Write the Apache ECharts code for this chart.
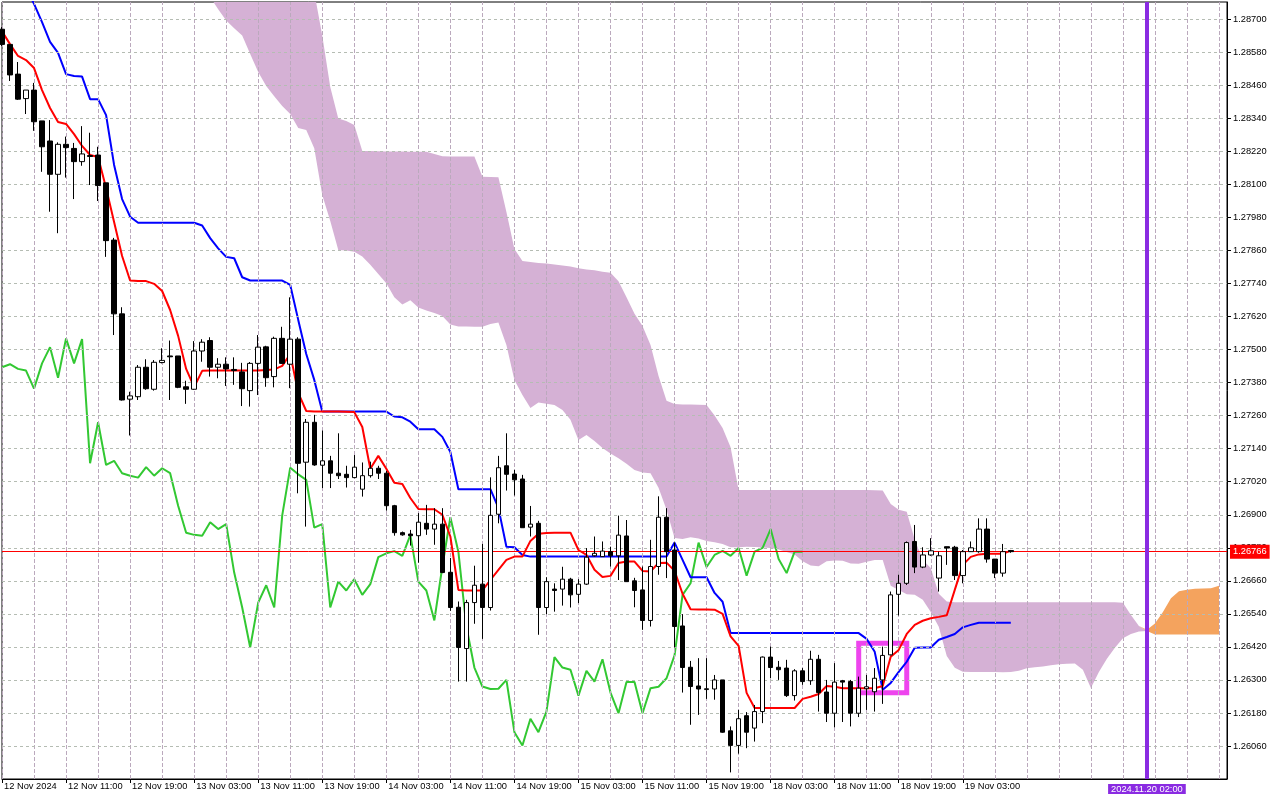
<!DOCTYPE html>
<html>
<head>
<meta charset="utf-8">
<script src="https://cdn.jsdelivr.net/npm/echarts@6/dist/echarts.min.js"></script>
<style>
html,body{margin:0;padding:0;background:#fff;}
#chart{width:1280px;height:800px;}
</style>
</head>
<body>
<div id="chart"></div>
<script>
// ---------- categories (hourly bars) ----------
const dayBlocks = [['12 Nov',3,23],['13 Nov',0,23],['14 Nov',0,23],['15 Nov',0,23],['18 Nov',0,23],['19 Nov',0,23],['20 Nov',0,12]];
const categories = [];
dayBlocks.forEach(([d,h0,h1]) => { for (let h = h0; h <= h1; h++) categories.push(d + ' ' + String(h).padStart(2,'0') + ':00'); });

const xTickLabels = ['12 Nov 2024','12 Nov 11:00','12 Nov 19:00','13 Nov 03:00','13 Nov 11:00','13 Nov 19:00','14 Nov 03:00','14 Nov 11:00','14 Nov 19:00','15 Nov 03:00','15 Nov 11:00','15 Nov 19:00','18 Nov 03:00','18 Nov 11:00','18 Nov 19:00','19 Nov 03:00'];
const yTicks = [1.26060,1.26180,1.26300,1.26420,1.26540,1.26660,1.26780,1.26900,1.27020,1.27140,1.27260,1.27380,1.27500,1.27620,1.27740,1.27860,1.27980,1.28100,1.28220,1.28340,1.28460,1.28580,1.28700];

// ---------- candles ----------
const opens = [1.28664,1.28609,1.28501,1.28412,1.28443,1.28331,1.28258,1.28137,1.28246,1.28231,1.28183,1.28205,1.28207,1.28106,1.27898,1.27630,1.27320,1.27329,1.27436,1.27356,1.27453,1.27477,1.27477,1.27365,1.27356,1.27495,1.27533,1.27436,1.27447,1.27428,1.27419,1.27351,1.27450,1.27510,1.27402,1.27541,1.27447,1.27538,1.27091,1.27236,1.27080,1.27096,1.27051,1.27047,1.27035,1.26993,1.27042,1.27069,1.27051,1.26933,1.26835,1.26830,1.26824,1.26869,1.26848,1.26866,1.26691,1.26564,1.26414,1.26581,1.26648,1.26563,1.26902,1.27078,1.27048,1.27030,1.26855,1.26869,1.26563,1.26630,1.26630,1.26666,1.26611,1.26648,1.26751,1.26748,1.26766,1.26751,1.26823,1.26660,1.26627,1.26516,1.26712,1.26891,1.26772,1.26496,1.26346,1.26278,1.26265,1.26267,1.26300,1.26115,1.26062,1.26170,1.26125,1.26185,1.26383,1.26346,1.26343,1.26243,1.26333,1.26297,1.26375,1.26256,1.26179,1.26297,1.26294,1.26179,1.26268,1.26257,1.26300,1.26391,1.26611,1.26651,1.26803,1.26710,1.26754,1.26670,1.26784,1.26782,1.26679,1.26766,1.26766,1.26848,1.26739,1.26688,1.26770];
const highs = [1.28672,1.28609,1.28545,1.28443,1.28469,1.28331,1.28334,1.28253,1.28274,1.28251,1.28312,1.28288,1.28237,1.28106,1.27906,1.27654,1.27347,1.27444,1.27465,1.27462,1.27505,1.27533,1.27477,1.27387,1.27531,1.27538,1.27545,1.27469,1.27472,1.27472,1.27452,1.27455,1.27553,1.27514,1.27547,1.27583,1.27690,1.27545,1.27248,1.27263,1.27206,1.27114,1.27196,1.27078,1.27117,1.27090,1.27093,1.27078,1.27059,1.26936,1.26839,1.26845,1.26906,1.26936,1.26924,1.26924,1.26743,1.26585,1.26591,1.26715,1.26794,1.27036,1.27114,1.27196,1.27063,1.27045,1.26932,1.26878,1.26673,1.26651,1.26711,1.26671,1.26666,1.26779,1.26821,1.26803,1.26784,1.26897,1.26881,1.26671,1.26712,1.26809,1.26967,1.26924,1.26800,1.26539,1.26369,1.26379,1.26379,1.26318,1.26300,1.26131,1.26191,1.26183,1.26209,1.26385,1.26421,1.26369,1.26373,1.26339,1.26343,1.26406,1.26391,1.26300,1.26361,1.26300,1.26300,1.26312,1.26318,1.26343,1.26421,1.26621,1.26682,1.26803,1.26863,1.26782,1.26815,1.26766,1.26784,1.26787,1.26772,1.26803,1.26887,1.26887,1.26739,1.26794,1.26772];
const lows = [1.28603,1.28476,1.28407,1.28356,1.28295,1.28146,1.28001,1.27923,1.28125,1.28047,1.28168,1.28098,1.28040,1.27837,1.27553,1.27315,1.27188,1.27317,1.27354,1.27351,1.27450,1.27317,1.27360,1.27303,1.27354,1.27456,1.27402,1.27396,1.27368,1.27372,1.27295,1.27293,1.27335,1.27365,1.27363,1.27448,1.27360,1.26978,1.26857,1.27078,1.26997,1.26997,1.27030,1.26999,1.27033,1.26966,1.27035,1.27030,1.26915,1.26824,1.26824,1.26788,1.26726,1.26827,1.26791,1.26688,1.26551,1.26294,1.26294,1.26504,1.26449,1.26552,1.26869,1.26988,1.26970,1.26853,1.26821,1.26464,1.26539,1.26548,1.26570,1.26563,1.26579,1.26645,1.26748,1.26747,1.26712,1.26663,1.26656,1.26564,1.26482,1.26494,1.26682,1.26670,1.26418,1.26254,1.26137,1.26173,1.26231,1.26228,1.26108,1.25964,1.26032,1.26052,1.26076,1.26143,1.26306,1.26300,1.26238,1.26225,1.26282,1.26282,1.26185,1.26147,1.26128,1.26147,1.26131,1.26165,1.26191,1.26185,1.26213,1.26389,1.26534,1.26645,1.26688,1.26706,1.26751,1.26621,1.26718,1.26663,1.26651,1.26765,1.26762,1.26726,1.26670,1.26675,1.26762];
const closes = [1.28609,1.28498,1.28410,1.28443,1.28328,1.28237,1.28137,1.28246,1.28234,1.28183,1.28211,1.28202,1.28096,1.27896,1.27630,1.27317,1.27332,1.27436,1.27358,1.27454,1.27461,1.27474,1.27363,1.27356,1.27495,1.27527,1.27436,1.27447,1.27430,1.27424,1.27358,1.27450,1.27509,1.27398,1.27541,1.27450,1.27538,1.27087,1.27236,1.27081,1.27096,1.27051,1.27042,1.27035,1.27073,1.27042,1.27069,1.27051,1.26933,1.26835,1.26827,1.26824,1.26873,1.26848,1.26866,1.26690,1.26563,1.26418,1.26581,1.26644,1.26563,1.26898,1.27071,1.27047,1.27027,1.26853,1.26866,1.26563,1.26657,1.26625,1.26666,1.26609,1.26648,1.26746,1.26760,1.26768,1.26751,1.26826,1.26657,1.26625,1.26516,1.26712,1.26891,1.26766,1.26494,1.26345,1.26276,1.26267,1.26268,1.26300,1.26110,1.26062,1.26159,1.26110,1.26185,1.26383,1.26345,1.26337,1.26243,1.26333,1.26294,1.26375,1.26254,1.26179,1.26292,1.26292,1.26179,1.26270,1.26275,1.26306,1.26389,1.26609,1.26651,1.26799,1.26710,1.26754,1.26769,1.26751,1.26779,1.26679,1.26766,1.26780,1.26848,1.26739,1.26688,1.26766,1.26766];

// ---------- Ichimoku lines ----------
const tenkan = [1.28657,1.28610,1.28567,1.28552,1.28523,1.28443,1.28378,1.28327,1.28320,1.28283,1.28240,1.28207,1.28200,1.28087,1.27964,1.27840,1.27751,1.27749,1.27749,1.27739,1.27713,1.27644,1.27550,1.27430,1.27364,1.27423,1.27424,1.27424,1.27424,1.27424,1.27424,1.27424,1.27424,1.27426,1.27428,1.27441,1.27484,1.27343,1.27277,1.27275,1.27275,1.27275,1.27275,1.27274,1.27273,1.27219,1.27067,1.27114,1.27067,1.27016,1.27012,1.26961,1.26921,1.26920,1.26920,1.26900,1.26821,1.26627,1.26625,1.26625,1.26625,1.26663,1.26700,1.26736,1.26748,1.26748,1.26805,1.26831,1.26834,1.26835,1.26835,1.26835,1.26772,1.26754,1.26700,1.26674,1.26678,1.26725,1.26730,1.26730,1.26696,1.26694,1.26725,1.26726,1.26696,1.26613,1.26557,1.26556,1.26556,1.26555,1.26540,1.26458,1.26424,1.26253,1.26198,1.26198,1.26198,1.26198,1.26198,1.26198,1.26231,1.26239,1.26249,1.26278,1.26275,1.26270,1.26270,1.26270,1.26270,1.26270,1.26278,1.26384,1.26409,1.26467,1.26500,1.26515,1.26524,1.26529,1.26535,1.26627,1.26718,1.26747,1.26756,1.26758,1.26758,1.26758,1.26770];
const kijun = [null,null,null,1.28814,1.28756,1.28690,1.28618,1.28578,1.28501,1.28494,1.28492,1.28410,1.28410,1.28352,1.28171,1.28047,1.27983,1.27961,1.27961,1.27961,1.27961,1.27961,1.27961,1.27961,1.27961,1.27951,1.27905,1.27868,1.27837,1.27832,1.27763,1.27751,1.27751,1.27751,1.27751,1.27751,1.27735,1.27608,1.27484,1.27390,1.27275,1.27275,1.27275,1.27275,1.27275,1.27275,1.27275,1.27275,1.27275,1.27257,1.27254,1.27238,1.27211,1.27211,1.27211,1.27183,1.27128,1.26993,1.26993,1.26993,1.26993,1.26993,1.26925,1.26784,1.26782,1.26754,1.26748,1.26748,1.26748,1.26748,1.26748,1.26748,1.26748,1.26748,1.26748,1.26748,1.26748,1.26748,1.26748,1.26748,1.26748,1.26748,1.26748,1.26748,1.26799,1.26736,1.26673,1.26673,1.26673,1.26616,1.26584,1.26470,1.26470,1.26470,1.26470,1.26470,1.26470,1.26470,1.26470,1.26470,1.26470,1.26470,1.26470,1.26470,1.26470,1.26470,1.26470,1.26470,1.26449,1.26402,1.26264,1.26289,1.26329,1.26366,1.26417,1.26418,1.26418,1.26446,1.26456,1.26467,1.26491,1.26500,1.26508,1.26508,1.26508,1.26508,1.26508];
const chikou = [1.27436,1.27447,1.27430,1.27424,1.27358,1.27450,1.27509,1.27398,1.27541,1.27450,1.27538,1.27087,1.27236,1.27081,1.27096,1.27051,1.27042,1.27035,1.27073,1.27042,1.27069,1.27051,1.26933,1.26835,1.26827,1.26824,1.26873,1.26848,1.26866,1.26690,1.26563,1.26418,1.26581,1.26644,1.26563,1.26898,1.27071,1.27047,1.27027,1.26853,1.26866,1.26563,1.26657,1.26625,1.26666,1.26609,1.26648,1.26746,1.26760,1.26768,1.26751,1.26826,1.26657,1.26625,1.26516,1.26712,1.26891,1.26766,1.26494,1.26345,1.26276,1.26267,1.26268,1.26300,1.26110,1.26062,1.26159,1.26110,1.26185,1.26383,1.26345,1.26337,1.26243,1.26333,1.26294,1.26375,1.26254,1.26179,1.26292,1.26292,1.26179,1.26270,1.26275,1.26306,1.26389,1.26609,1.26651,1.26799,1.26710,1.26754,1.26769,1.26751,1.26779,1.26679,1.26766,1.26780,1.26848,1.26739,1.26688,1.26766,1.26766];
const lead = new Array(26).fill(null);
const spanA = lead.concat([1.28781,1.28737,1.28696,1.28668,1.28641,1.28574,1.28509,1.28458,1.28421,1.28385,1.28356,1.28305,1.28298,1.28232,1.28062,1.27967,1.27862,1.27860,1.27856,1.27838,1.27808,1.27775,1.27741,1.27690,1.27664,1.27679,1.27653,1.27642,1.27633,1.27622,1.27591,1.27584,1.27584,1.27583,1.27583,1.27593,1.27599,1.27517,1.27390,1.27335,1.27288,1.27308,1.27303,1.27299,1.27281,1.27245,1.27172,1.27190,1.27168,1.27143,1.27123,1.27105,1.27085,1.27063,1.27054,1.27051,1.26998,1.26918,1.26816,1.26812,1.26818,1.26814,1.26805,1.26800,1.26794,1.26782,1.26782,1.26784,1.26783,1.26781,1.26779,1.26774,1.26765,1.26756,1.26731,1.26716,1.26713,1.26731,1.26734,1.26733,1.26723,1.26722,1.26729,1.26736,1.26736,1.26642,1.26627,1.26611,1.26609,1.26591,1.26547,1.26493,1.26387,1.26344,1.26330,1.26329,1.26329,1.26329,1.26329,1.26328,1.26329,1.26333,1.26342,1.26346,1.26349,1.26353,1.26357,1.26359,1.26360,1.26337,1.26271,1.26329,1.26377,1.26417,1.26451,1.26467,1.26476,1.26482,1.26505,1.26547,1.26597,1.26622,1.26628,1.26631,1.26632,1.26633,1.26642,null]);
const spanB = lead.concat([1.28843,1.28843,1.28843,1.28843,1.28843,1.28843,1.28843,1.28843,1.28843,1.28843,1.28843,1.28843,1.28843,1.28799,1.28641,1.28454,1.28340,1.28331,1.28316,1.28222,1.28222,1.28221,1.28220,1.28220,1.28220,1.28219,1.28219,1.28219,1.28211,1.28203,1.28202,1.28202,1.28202,1.28202,1.28128,1.28127,1.28126,1.28000,1.27866,1.27822,1.27818,1.27815,1.27813,1.27809,1.27806,1.27802,1.27796,1.27791,1.27788,1.27783,1.27779,1.27748,1.27690,1.27630,1.27586,1.27517,1.27404,1.27314,1.27302,1.27301,1.27301,1.27300,1.27299,1.27261,1.27215,1.27145,1.26990,1.26990,1.26990,1.26990,1.26990,1.26990,1.26990,1.26990,1.26990,1.26990,1.26990,1.26990,1.26990,1.26990,1.26990,1.26990,1.26990,1.26989,1.26988,1.26939,1.26918,1.26911,1.26809,1.26736,1.26707,1.26613,1.26585,1.26582,1.26582,1.26582,1.26582,1.26582,1.26582,1.26582,1.26582,1.26582,1.26582,1.26582,1.26582,1.26582,1.26582,1.26582,1.26582,1.26582,1.26582,1.26582,1.26582,1.26582,1.26580,1.26536,1.26496,1.26478,1.26465,1.26465,1.26465,1.26465,1.26465,1.26465,1.26465,1.26465,1.26465,null]);

const bidPrice = 1.26766;
const markTime = '20 Nov 02:00';
const markTimeLabel = '2024.11.20 02:00';
const boxFrom = {time: '18 Nov 14:00', price: 1.26433};
const boxTo = {time: '18 Nov 20:00', price: 1.26253};

// ---------- derived tables ----------
const candleData = opens.map((o, i) => [o, closes[i], lows[i], highs[i]]);
const kumoLow = spanA.map((a, i) => a == null ? null : Math.min(a, spanB[i]));
const kumoBear = spanA.map((a, i) => a == null ? null : Math.max(spanB[i] - a, 0));
const kumoBull = spanA.map((a, i) => a == null ? null : Math.max(a - spanB[i], 0));
const vGrid = categories.filter((c, i) => i % 4 === 0).map(c => ({xAxis: c, lineStyle: {color: '#BBA9BD', width: 1, type: [4, 2]}}));
const hGrid = yTicks.map(v => ({yAxis: v, lineStyle: {color: '#B5BCB3', width: 1, type: [3, 3]}}));

const FONT = 'Liberation Sans';
const chart = echarts.init(document.getElementById('chart'), null, {renderer: 'canvas'});
chart.setOption({
  animation: false,
  backgroundColor: '#ffffff',
  grid: {left: 2, right: 53, top: 2, bottom: 21, show: true, borderColor: '#000', borderWidth: 1, backgroundColor: '#fff'},
  xAxis: {
    type: 'category', data: categories, boundaryGap: false,
    axisLine: {show: true, lineStyle: {color: '#000', width: 1}},
    axisTick: {show: true, length: 4, lineStyle: {color: '#000'}, interval: (idx) => idx % 8 === 0 && idx <= 120},
    axisLabel: {
      show: true, interval: (idx) => idx % 8 === 0 && idx <= 120, align: 'left', margin: 3,
      color: '#000', fontFamily: FONT, fontSize: 9.3, padding: [0, 0, 0, 2],
      formatter: (v, idx) => (idx % 8 === 0 && idx / 8 < xTickLabels.length) ? xTickLabels[idx / 8] : ''
    },
    splitLine: {show: false}
  },
  yAxis: {
    type: 'value', position: 'right', min: 1.2594, max: 1.28763, scale: true,
    axisLine: {show: true, lineStyle: {color: '#000', width: 1}},
    axisTick: {show: true, length: 4, customValues: yTicks, lineStyle: {color: '#000'}},
    axisLabel: {show: true, customValues: yTicks, margin: 6, color: '#000', fontFamily: FONT, fontSize: 9.3, formatter: v => v.toFixed(5)},
    splitLine: {show: false}
  },
  series: [
    {name: 'kumoBase', type: 'line', stack: 'kumo', data: kumoLow, symbol: 'none', showSymbol: false, lineStyle: {width: 0, opacity: 0}, silent: true, z: 1},
    {name: 'kumoBear', type: 'line', stack: 'kumo', data: kumoBear, symbol: 'none', showSymbol: false, lineStyle: {width: 0, opacity: 0}, areaStyle: {color: '#D5B1D5', opacity: 1}, silent: true, z: 1},
    {name: 'kumoBull', type: 'line', stack: 'kumo', data: kumoBull, symbol: 'none', showSymbol: false, lineStyle: {width: 0, opacity: 0}, areaStyle: {color: '#F4A35E', opacity: 1}, silent: true, z: 1},
    {name: 'grid', type: 'line', data: categories.map(() => null), silent: true, z: 2,
      markLine: {silent: true, symbol: 'none', precision: 5, animation: false, label: {show: false},
        emphasis: {disabled: true}, data: vGrid.concat(hGrid)}},
    {name: 'Chikou', type: 'line', data: chikou, symbol: 'none', showSymbol: false, lineStyle: {color: '#32C832', width: 2}, z: 3},
    {name: 'Kijun', type: 'line', data: kijun, symbol: 'none', showSymbol: false, lineStyle: {color: '#0000FF', width: 2}, z: 4},
    {name: 'Tenkan', type: 'line', data: tenkan, symbol: 'none', showSymbol: false, lineStyle: {color: '#FF0000', width: 2}, z: 5},
    {name: 'GBPUSD', type: 'candlestick', data: candleData, barWidth: 5, z: 6,
      itemStyle: {color: '#FFFFFF', color0: '#000000', borderColor: '#000000', borderColor0: '#000000', borderWidth: 1}},
    {name: 'marks', type: 'line', data: categories.map(() => null), silent: true, z: 10,
      markLine: {silent: true, symbol: 'none', precision: 5, animation: false, emphasis: {disabled: true},
        data: [
          {yAxis: bidPrice, lineStyle: {color: '#FF0000', width: 1, type: 'solid'},
            label: {show: true, position: 'end', distance: 3, formatter: bidPrice.toFixed(5), color: '#FFFFFF', backgroundColor: '#FF0000',
              padding: [1, 3, 1, 3], lineHeight: 12, fontFamily: FONT, fontSize: 9.3}},
          {xAxis: markTime, lineStyle: {color: '#8A2BE2', width: 4, type: 'solid'},
            label: {show: true, position: 'start', distance: 5, formatter: markTimeLabel, color: '#FFFFFF', backgroundColor: '#8A2BE2',
              padding: [0, 3, 0, 3], lineHeight: 10, fontFamily: FONT, fontSize: 9.3}}
        ]},
      markArea: {silent: true, label: {show: false}, emphasis: {disabled: true},
        itemStyle: {color: 'rgba(0,0,0,0)', borderColor: '#EE44EE', borderWidth: 5},
        data: [[{xAxis: boxFrom.time, yAxis: boxFrom.price}, {xAxis: boxTo.time, yAxis: boxTo.price}]]}}
  ]
});
</script>
</body>
</html>
